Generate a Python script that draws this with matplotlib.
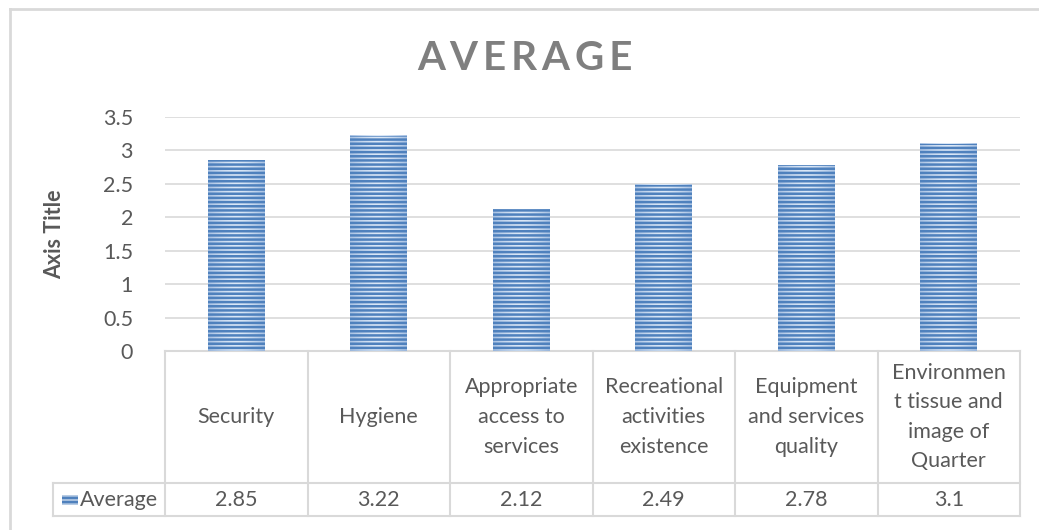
import numpy as np
import matplotlib.pyplot as plt
from matplotlib.lines import Line2D
from matplotlib.transforms import blended_transform_factory

plt.rcParams['font.family'] = ['Lato', 'DejaVu Sans']
plt.rcParams['hatch.linewidth'] = 1.8

# data
categories = ['Security', 'Hygiene', 'Appropriate\naccess to\nservices',
              'Recreational\nactivities\nexistence', 'Equipment\nand services\nquality',
              'Environmen\nt tissue and\nimage of\nQuarter']
values = [2.85, 3.22, 2.12, 2.49, 2.78, 3.1]
value_labels = ['2.85', '3.22', '2.12', '2.49', '2.78', '3.1']
series_name = 'Average'
yticks = [0, 0.5, 1, 1.5, 2, 2.5, 3, 3.5]

text_col = '#595959'
grid_col = '#d9d9d9'
bar_dark = '#4f81bd'
fs = 15.5

W, H = 1039, 530
fig = plt.figure(figsize=(W / 100, H / 100), dpi=100)
ax = fig.add_axes([165 / W, 1 - 351 / H, (1020 - 165) / W, (351 - 117) / H])

x = np.arange(len(categories))
bars = ax.bar(x, values, width=0.4, facecolor='none', edgecolor=bar_dark,
              hatch='----', linewidth=0, zorder=3)

# light gradient under the stripes (brighter in the middle of each bar)
g = np.linspace(-1, 1, 64)
grad = 1 - np.abs(g) ** 1.5
light = np.array([0.66, 0.76, 0.89])
white = np.array([0.86, 0.91, 0.97])
img = light[None, :] + (white - light)[None, :] * grad[:, None]
img = img[None, :, :]
for b in bars:
    ax.imshow(img, extent=[b.get_x(), b.get_x() + b.get_width(), 0, b.get_height()],
              aspect='auto', zorder=2, interpolation='bilinear')

ax.set_xlim(-0.5, len(categories) - 0.5)
ax.set_ylim(0, 3.5)
ax.set_yticks(yticks)
ax.set_yticklabels([f'{t:g}' for t in yticks], color=text_col, fontsize=fs)
ax.tick_params(axis='y', length=0, pad=23)
ax.tick_params(axis='x', length=0, labelbottom=False)
ax.yaxis.grid(True, color=grid_col, linewidth=1.2)
ax.set_axisbelow(True)
for s in ax.spines.values():
    s.set_visible(False)

ax.set_ylabel('Axis Title', fontsize=15.5, fontweight='bold', color=text_col, labelpad=0)
ax.yaxis.set_label_coords(-0.117, 0.5)

fig.text(525 / W, 1 - 58 / H, 'A V E R A G E'.replace(' ', '\u2009'), ha='center', va='center',
         fontsize=29, fontweight='bold', color='#7f7f7f')

# data table below the axis
tr = blended_transform_factory(ax.transData, ax.transAxes)
ppx = 1 / (351 - 117)
y_top = 0
y_mid = -(483 - 351) * ppx
y_bot = -(516 - 351) * ppx
x_leg = -0.5 - (165 - 53) / 142.5
lk = dict(color=grid_col, linewidth=1.5, transform=tr, clip_on=False, zorder=1)
ax.add_line(Line2D([-0.5, 5.5], [y_top, y_top], **lk))
ax.add_line(Line2D([x_leg, 5.5], [y_mid, y_mid], **lk))
ax.add_line(Line2D([x_leg, 5.5], [y_bot, y_bot], **lk))
ax.add_line(Line2D([x_leg, x_leg], [y_mid, y_bot], **lk))
for xb in np.arange(-0.5, len(categories) + 0.5):
    ax.add_line(Line2D([xb, xb], [y_top, y_bot], **lk))

for xi, cat, lab in zip(x, categories, value_labels):
    ax.text(xi, (y_top + y_mid) / 2, cat, transform=tr, ha='center', va='center',
            fontsize=fs, color=text_col, linespacing=1.6)
    ax.text(xi, (y_mid + y_bot) / 2, lab, transform=tr, ha='center', va='center',
            fontsize=fs, color=text_col)

# legend key in the first column
key_x0 = x_leg + 9 / 142.5
key_w = 16 / 142.5
ax.bar([key_x0 + key_w / 2], [10 * ppx], width=key_w, bottom=(y_mid + y_bot) / 2 - 5 * ppx,
       transform=tr, facecolor='#b8cce4', edgecolor=bar_dark, hatch='----', linewidth=0,
       clip_on=False)
ax.text(key_x0 + key_w + 2 / 142.5, (y_mid + y_bot) / 2, series_name, transform=tr,
        ha='left', va='center', fontsize=fs, color=text_col)

# chart border
fig.add_artist(Line2D([10 / W, 10 / W], [0, 1 - 9 / H], color=grid_col, linewidth=2))
fig.add_artist(Line2D([10 / W, 1], [1 - 9 / H, 1 - 9 / H], color=grid_col, linewidth=2))

fig.savefig('out.png', dpi=100)
